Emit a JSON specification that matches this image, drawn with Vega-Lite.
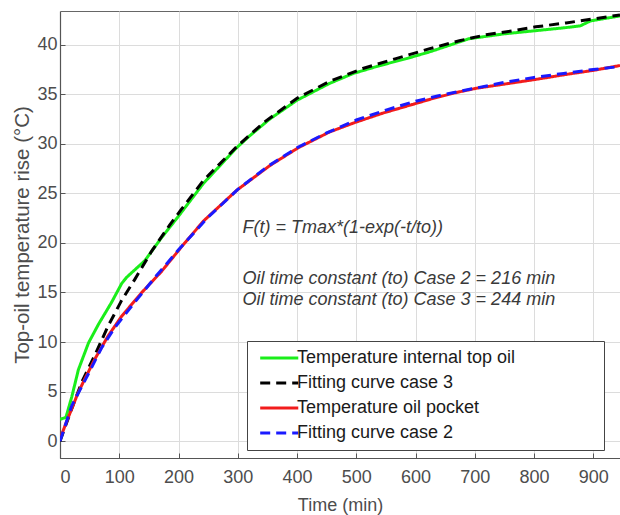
{
  "$schema": "https://vega.github.io/schema/vega-lite/v6.json",
  "width": 560,
  "height": 447,
  "autosize": "none",
  "padding": {"left": 60, "top": 11, "right": 0, "bottom": 57},
  "background": "white",
  "config": {
    "font": "Liberation Sans",
    "view": {"stroke": "#666666", "strokeWidth": 1},
    "axis": {
      "grid": true,
      "gridColor": "#dcdcdc",
      "gridWidth": 1,
      "domainColor": "#555555",
      "domainWidth": 1.2,
      "tickColor": "#555555",
      "tickSize": -5,
      "labelFont": "Liberation Sans",
      "labelFontSize": 18,
      "labelColor": "#4d4d4d",
      "titleFont": "Liberation Sans",
      "titleFontSize": 18,
      "titleFontWeight": "normal",
      "titleColor": "#4d4d4d"
    },
    "legend": {
      "orient": "none",
      "legendX": 187,
      "legendY": 330,
      "symbolType": "M-1,0H9",
      "symbolSize": 58,
      "symbolStrokeWidth": 3,
      "labelFont": "Liberation Sans",
      "labelFontSize": 18,
      "labelColor": "#1a1a1a",
      "labelOffset": 24,
      "labelLimit": 500,
      "padding": 8,
      "rowPadding": 7,
      "strokeColor": "#444444",
      "fillColor": "white"
    }
  },
  "layer": [
    {
      "data": {
        "values": [
          {"t": 0, "v": 2.2, "s": "Temperature internal top oil"},
          {"t": 10, "v": 2.4, "s": "Temperature internal top oil"},
          {"t": 20, "v": 4.5, "s": "Temperature internal top oil"},
          {"t": 31, "v": 7.2, "s": "Temperature internal top oil"},
          {"t": 48, "v": 9.9, "s": "Temperature internal top oil"},
          {"t": 65, "v": 11.8, "s": "Temperature internal top oil"},
          {"t": 87, "v": 14.0, "s": "Temperature internal top oil"},
          {"t": 104, "v": 15.9, "s": "Temperature internal top oil"},
          {"t": 112, "v": 16.5, "s": "Temperature internal top oil"},
          {"t": 121, "v": 17.0, "s": "Temperature internal top oil"},
          {"t": 143, "v": 18.2, "s": "Temperature internal top oil"},
          {"t": 171, "v": 20.5, "s": "Temperature internal top oil"},
          {"t": 200, "v": 22.7, "s": "Temperature internal top oil"},
          {"t": 242, "v": 26.0, "s": "Temperature internal top oil"},
          {"t": 298, "v": 29.6, "s": "Temperature internal top oil"},
          {"t": 320, "v": 30.8, "s": "Temperature internal top oil"},
          {"t": 354, "v": 32.5, "s": "Temperature internal top oil"},
          {"t": 400, "v": 34.4, "s": "Temperature internal top oil"},
          {"t": 455, "v": 36.1, "s": "Temperature internal top oil"},
          {"t": 495, "v": 37.1, "s": "Temperature internal top oil"},
          {"t": 540, "v": 37.9, "s": "Temperature internal top oil"},
          {"t": 585, "v": 38.6, "s": "Temperature internal top oil"},
          {"t": 625, "v": 39.3, "s": "Temperature internal top oil"},
          {"t": 665, "v": 40.1, "s": "Temperature internal top oil"},
          {"t": 690, "v": 40.6, "s": "Temperature internal top oil"},
          {"t": 750, "v": 41.1, "s": "Temperature internal top oil"},
          {"t": 800, "v": 41.4, "s": "Temperature internal top oil"},
          {"t": 850, "v": 41.7, "s": "Temperature internal top oil"},
          {"t": 878, "v": 41.9, "s": "Temperature internal top oil"},
          {"t": 895, "v": 42.4, "s": "Temperature internal top oil"},
          {"t": 945, "v": 42.9, "s": "Temperature internal top oil"},

          {"t": 0, "v": 0.0, "s": "Fitting curve case 3"},
          {"t": 20, "v": 3.3, "s": "Fitting curve case 3"},
          {"t": 37, "v": 6.0, "s": "Fitting curve case 3"},
          {"t": 59, "v": 8.7, "s": "Fitting curve case 3"},
          {"t": 81, "v": 11.6, "s": "Fitting curve case 3"},
          {"t": 104, "v": 14.2, "s": "Fitting curve case 3"},
          {"t": 126, "v": 16.3, "s": "Fitting curve case 3"},
          {"t": 155, "v": 19.2, "s": "Fitting curve case 3"},
          {"t": 185, "v": 21.8, "s": "Fitting curve case 3"},
          {"t": 205, "v": 23.4, "s": "Fitting curve case 3"},
          {"t": 242, "v": 26.3, "s": "Fitting curve case 3"},
          {"t": 298, "v": 29.7, "s": "Fitting curve case 3"},
          {"t": 345, "v": 32.2, "s": "Fitting curve case 3"},
          {"t": 400, "v": 34.6, "s": "Fitting curve case 3"},
          {"t": 455, "v": 36.3, "s": "Fitting curve case 3"},
          {"t": 511, "v": 37.6, "s": "Fitting curve case 3"},
          {"t": 567, "v": 38.6, "s": "Fitting curve case 3"},
          {"t": 624, "v": 39.6, "s": "Fitting curve case 3"},
          {"t": 674, "v": 40.4, "s": "Fitting curve case 3"},
          {"t": 719, "v": 41.0, "s": "Fitting curve case 3"},
          {"t": 764, "v": 41.4, "s": "Fitting curve case 3"},
          {"t": 803, "v": 41.8, "s": "Fitting curve case 3"},
          {"t": 854, "v": 42.2, "s": "Fitting curve case 3"},
          {"t": 900, "v": 42.6, "s": "Fitting curve case 3"},
          {"t": 945, "v": 43.0, "s": "Fitting curve case 3"},

          {"t": 0, "v": 0.2, "s": "Temperature oil pocket"},
          {"t": 10, "v": 1.8, "s": "Temperature oil pocket"},
          {"t": 20, "v": 3.3, "s": "Temperature oil pocket"},
          {"t": 30, "v": 4.8, "s": "Temperature oil pocket"},
          {"t": 42, "v": 6.3, "s": "Temperature oil pocket"},
          {"t": 59, "v": 8.3, "s": "Temperature oil pocket"},
          {"t": 81, "v": 10.6, "s": "Temperature oil pocket"},
          {"t": 104, "v": 12.6, "s": "Temperature oil pocket"},
          {"t": 138, "v": 15.0, "s": "Temperature oil pocket"},
          {"t": 171, "v": 17.1, "s": "Temperature oil pocket"},
          {"t": 205, "v": 19.6, "s": "Temperature oil pocket"},
          {"t": 242, "v": 22.2, "s": "Temperature oil pocket"},
          {"t": 298, "v": 25.3, "s": "Temperature oil pocket"},
          {"t": 354, "v": 27.8, "s": "Temperature oil pocket"},
          {"t": 402, "v": 29.6, "s": "Temperature oil pocket"},
          {"t": 455, "v": 31.2, "s": "Temperature oil pocket"},
          {"t": 500, "v": 32.2, "s": "Temperature oil pocket"},
          {"t": 545, "v": 33.1, "s": "Temperature oil pocket"},
          {"t": 585, "v": 33.8, "s": "Temperature oil pocket"},
          {"t": 625, "v": 34.5, "s": "Temperature oil pocket"},
          {"t": 663, "v": 35.1, "s": "Temperature oil pocket"},
          {"t": 702, "v": 35.6, "s": "Temperature oil pocket"},
          {"t": 747, "v": 36.0, "s": "Temperature oil pocket"},
          {"t": 803, "v": 36.5, "s": "Temperature oil pocket"},
          {"t": 854, "v": 37.0, "s": "Temperature oil pocket"},
          {"t": 899, "v": 37.4, "s": "Temperature oil pocket"},
          {"t": 945, "v": 37.9, "s": "Temperature oil pocket"},

          {"t": 0, "v": 0.0, "s": "Fitting curve case 2"},
          {"t": 20, "v": 3.6, "s": "Fitting curve case 2"},
          {"t": 48, "v": 6.8, "s": "Fitting curve case 2"},
          {"t": 70, "v": 9.4, "s": "Fitting curve case 2"},
          {"t": 93, "v": 11.5, "s": "Fitting curve case 2"},
          {"t": 126, "v": 14.0, "s": "Fitting curve case 2"},
          {"t": 160, "v": 16.5, "s": "Fitting curve case 2"},
          {"t": 200, "v": 19.3, "s": "Fitting curve case 2"},
          {"t": 250, "v": 22.6, "s": "Fitting curve case 2"},
          {"t": 300, "v": 25.4, "s": "Fitting curve case 2"},
          {"t": 350, "v": 27.7, "s": "Fitting curve case 2"},
          {"t": 400, "v": 29.6, "s": "Fitting curve case 2"},
          {"t": 450, "v": 31.1, "s": "Fitting curve case 2"},
          {"t": 500, "v": 32.4, "s": "Fitting curve case 2"},
          {"t": 550, "v": 33.4, "s": "Fitting curve case 2"},
          {"t": 600, "v": 34.3, "s": "Fitting curve case 2"},
          {"t": 650, "v": 35.0, "s": "Fitting curve case 2"},
          {"t": 700, "v": 35.6, "s": "Fitting curve case 2"},
          {"t": 750, "v": 36.2, "s": "Fitting curve case 2"},
          {"t": 800, "v": 36.7, "s": "Fitting curve case 2"},
          {"t": 850, "v": 37.1, "s": "Fitting curve case 2"},
          {"t": 900, "v": 37.5, "s": "Fitting curve case 2"},
          {"t": 945, "v": 37.8, "s": "Fitting curve case 2"}
        ]
      },
      "mark": {"type": "line", "strokeWidth": 3, "clip": true},
      "encoding": {
        "x": {
          "field": "t", "type": "quantitative",
          "scale": {"domain": [0, 945], "nice": false, "zero": false},
          "axis": {"values": [0, 100, 200, 300, 400, 500, 600, 700, 800, 900], "title": "Time (min)", "labelPadding": 15, "titlePadding": 10}
        },
        "y": {
          "field": "v", "type": "quantitative",
          "scale": {"domain": [-1.7, 43.4], "nice": false, "zero": false},
          "axis": {"values": [0, 5, 10, 15, 20, 25, 30, 35, 40], "title": "Top-oil temperature rise (°C)", "labelPadding": 8, "titlePadding": 4, "titleFontSize": 20.5}
        },
        "color": {
          "field": "s", "type": "nominal",
          "scale": {
            "domain": ["Temperature internal top oil", "Fitting curve case 3", "Temperature oil pocket", "Fitting curve case 2"],
            "range": ["#1aee1a", "#000000", "#f21c1c", "#1a1aff"]
          },
          "legend": {"title": null, "labelExpr": "datum.label + '\u00a0\u00a0\u00a0\u00a0\u00a0\u00a0\u00a0\u00a0\u00a0\u00a0\u00a0\u00a0\u00a0\u00a0\u00a0\u00a0\u200b'"}
        },
        "strokeDash": {
          "field": "s", "type": "nominal",
          "scale": {
            "domain": ["Temperature internal top oil", "Fitting curve case 3", "Temperature oil pocket", "Fitting curve case 2"],
            "range": [[1, 0], [10, 6], [1, 0], [10, 6]]
          },
          "legend": {"title": null, "labelExpr": "datum.label + '\u00a0\u00a0\u00a0\u00a0\u00a0\u00a0\u00a0\u00a0\u00a0\u00a0\u00a0\u00a0\u00a0\u00a0\u00a0\u00a0\u200b'"}
        }
      }
    },
    {
      "data": {
        "values": [
          {"t": 308, "v": 21.5, "txt": "F(t) = Tmax*(1-exp(-t/to))"},
          {"t": 308, "v": 16.4, "txt": "Oil time constant (to) Case 2 = 216 min"},
          {"t": 308, "v": 14.2, "txt": "Oil time constant (to) Case 3 = 244 min"}
        ]
      },
      "mark": {"type": "text", "align": "left", "baseline": "middle", "fontStyle": "italic", "fontSize": 18, "font": "Liberation Sans", "color": "#3a3a3a"},
      "encoding": {
        "x": {"field": "t", "type": "quantitative"},
        "y": {"field": "v", "type": "quantitative"},
        "text": {"field": "txt", "type": "nominal"}
      }
    }
  ]
}
